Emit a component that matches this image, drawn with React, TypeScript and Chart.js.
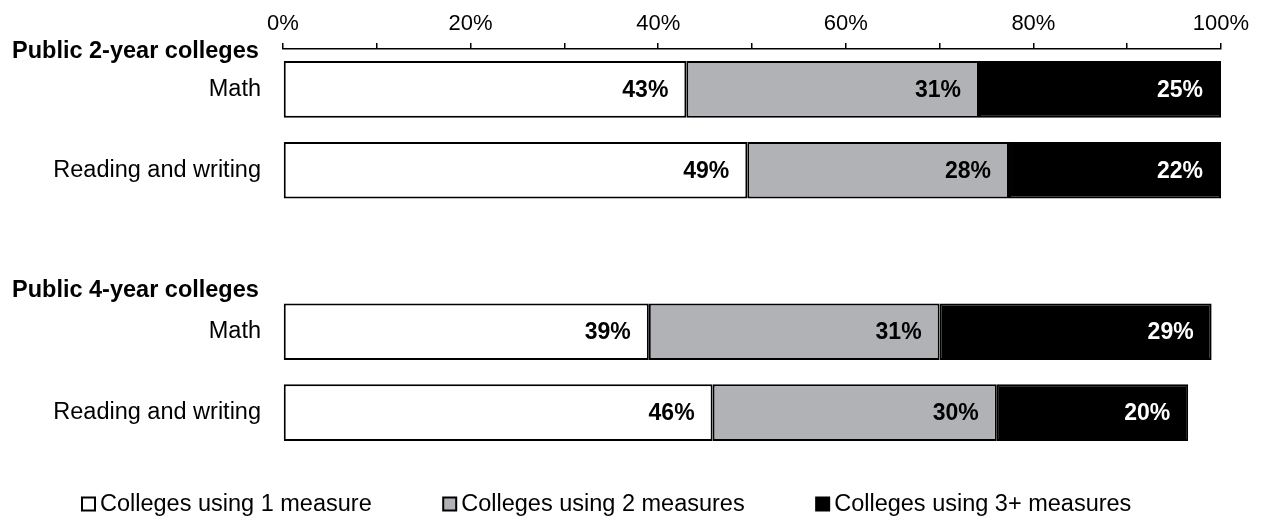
import React, { useEffect, useRef } from "react";
import { Chart, registerables } from "chart.js";

Chart.register(...registerables);

const categories = ["Math", "Reading and writing", "", "Math", "Reading and writing"];
const groupHeaders = ["Public 2-year colleges", "Public 4-year colleges"];
const groupHeaderRows = [0, 3];

const oneMeasure = [43.0, 49.5, null, 39.0, 45.8];
const twoMeasures = [31.2, 27.9, null, 31.0, 30.3];
const threeMeasures = [25.8, 22.6, null, 29.0, 20.4];

const oneLabels = ["43%", "49%", "", "39%", "46%"];
const twoLabels = ["31%", "28%", "", "31%", "30%"];
const threeLabels = ["25%", "22%", "", "29%", "20%"];

const seriesNames = ["Colleges using 1 measure", "Colleges using 2 measures", "Colleges using 3+ measures"];
const xTickValues = [0, 20, 40, 60, 80, 100];

const FONT = "'Liberation Sans', Arial, sans-serif";

export default function App() {
  const ref = useRef<HTMLCanvasElement | null>(null);

  useEffect(() => {
    document.body.style.margin = "0";
    const canvas = ref.current;
    if (!canvas) return;
    const labelSets = [oneLabels, twoLabels, threeLabels];
    const colors = ["#ffffff", "#b1b2b5", "#000000"];

    const overlay = {
      id: "overlay",
      afterDatasetsDraw(chart: any) {
        const ctx = chart.ctx;
        ctx.save();
        ctx.font = `bold 23px ${FONT}`;
        ctx.textAlign = "right";
        ctx.textBaseline = "middle";
        chart.data.datasets.forEach((ds: any, di: number) => {
          const meta = chart.getDatasetMeta(di);
          meta.data.forEach((el: any, i: number) => {
            const t = labelSets[di][i];
            if (!t) return;
            ctx.fillStyle = di === 2 ? "#ffffff" : "#000000";
            ctx.fillText(t, el.x - 18, el.y + 1);
          });
        });
        ctx.restore();
      },
      afterDraw(chart: any) {
        const ctx = chart.ctx;
        const y = chart.scales.y;
        const slot = y.getPixelForValue(1) - y.getPixelForValue(0);
        ctx.save();
        ctx.font = `bold 23.5px ${FONT}`;
        ctx.textAlign = "left";
        ctx.textBaseline = "middle";
        ctx.fillStyle = "#000";
        groupHeaders.forEach((h, i) => {
          const py = y.getPixelForValue(groupHeaderRows[i]) - slot / 2 + (i === 0 ? 3 : -1);
          ctx.fillText(h, 12, py);
        });
        // legend
        const ly = 504;
        let lx = 81;
        ctx.font = `23.5px ${FONT}`;
        seriesNames.forEach((name, i) => {
          ctx.fillStyle = colors[i];
          ctx.fillRect(lx + 1, ly - 6.5, 13, 13);
          ctx.strokeStyle = "#000";
          ctx.lineWidth = 2;
          ctx.strokeRect(lx + 1, ly - 6.5, 13, 13);
          ctx.fillStyle = "#000";
          ctx.fillText(name, lx + 19, ly + 1);
          lx += 19 + ctx.measureText(name).width + 70.5;
        });
        ctx.restore();
      },
    };

    const chart = new Chart(canvas, {
      type: "bar",
      data: {
        labels: categories,
        datasets: [
          { label: seriesNames[0], data: oneMeasure, backgroundColor: colors[0] },
          { label: seriesNames[1], data: twoMeasures, backgroundColor: colors[1] },
          { label: seriesNames[2], data: threeMeasures, backgroundColor: colors[2] },
        ].map((d) => ({
          ...d,
          borderColor: "#000",
          borderWidth: 2,
          borderSkipped: false,
          barPercentage: 0.7,
          categoryPercentage: 1,
        })) as any,
      },
      options: {
        indexAxis: "y",
        animation: false,
        responsive: false,
        maintainAspectRatio: false,
        layout: { padding: { top: 0, bottom: 65, left: 0, right: 41 } },
        plugins: { legend: { display: false }, tooltip: { enabled: false } },
        scales: {
          x: {
            position: "top",
            stacked: true,
            min: 0,
            max: 100,
            afterFit(scale: any) {
              scale.height = 49;
            },
            afterBuildTicks(scale: any) {
              const t: any[] = [];
              for (let v = 0; v <= 100; v += 10) t.push({ value: v });
              scale.ticks = t;
            },
            ticks: {
              autoSkip: false,
              maxRotation: 0,
              color: "#000",
              font: { family: FONT, size: 22 },
              padding: 6,
              callback: (v: any) => (xTickValues.includes(Number(v)) ? `${v}%` : ""),
            },
            grid: {
              drawOnChartArea: false,
              drawTicks: true,
              tickLength: 6,
              color: "#000",
              lineWidth: 1.5,
            },
            border: { display: true, color: "#000", width: 1.5 },
          },
          y: {
            stacked: true,
            afterFit(scale: any) {
              scale.width = 283;
            },
            ticks: {
              color: "#000",
              font: { family: FONT, size: 23.5 },
              padding: 22,
            },
            grid: { display: false, drawTicks: false },
            border: { display: false },
          },
        },
      },
      plugins: [overlay],
    });
    return () => chart.destroy();
  }, []);

  return (
    <div style={{ position: "absolute", left: 0, top: 0, width: 1262, height: 518, background: "#fff" }}>
      <canvas ref={ref} width={1262} height={518} />
    </div>
  );
}
